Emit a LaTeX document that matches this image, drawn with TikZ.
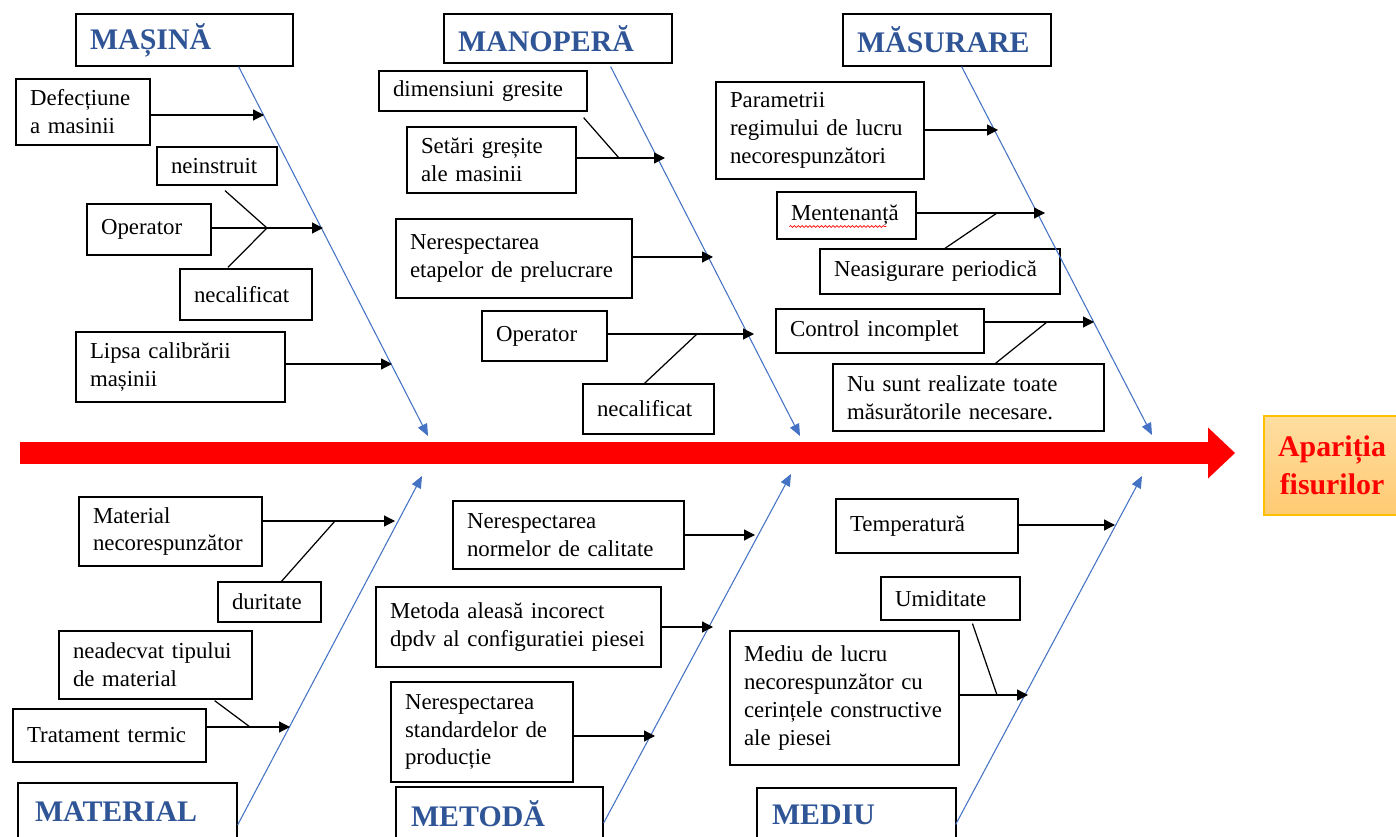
\documentclass[tikz,border=0pt]{standalone}
\usepackage{fontspec}
\setmainfont{Liberation Serif}
\usetikzlibrary{arrows.meta, decorations.pathmorphing}

\definecolor{titleblue}{RGB}{47,85,151}
\definecolor{boneblue}{RGB}{68,114,196}
\definecolor{effectline}{RGB}{255,192,0}
\definecolor{effecttop}{RGB}{255,222,160}
\definecolor{effectbot}{RGB}{255,202,115}

\newcommand{\causefont}{\fontsize{13pt}{15.9pt}\selectfont}
\newcommand{\titlefont}{\fontsize{17pt}{20pt}\selectfont\bfseries}
\newcommand{\effectfont}{\fontsize{17pt}{21.5pt}\selectfont\bfseries}

\begin{document}
\begin{tikzpicture}[x=0.02cm, y=-0.02cm,
causenode/.style={draw, line width=0.75pt, font=\causefont, align=left, inner xsep=0.28cm, inner ysep=2pt},
titlenode/.style={draw, line width=0.75pt, font=\titlefont, text=titleblue, align=left, inner xsep=0.28cm, inner ysep=2pt},
effectnode/.style={draw=effectline, line width=0.8pt, top color=effecttop, bottom color=effectbot, font=\effectfont, text=red, align=center},
boneline/.style={draw=boneblue, line width=0.6pt, -{Triangle[length=0.24cm, width=0.2cm]}},
causearrow/.style={line width=0.7pt, -{Triangle[length=0.22cm, width=0.22cm]}},
subline/.style={line width=0.7pt},
mainarrow/.style={draw=red, line width=0.44cm, -{Triangle[length=0.54cm, width=1.02cm, line width=0pt]}},
]
\useasboundingbox (0,0) rectangle (1396,837);
\clip (0,0) rectangle (1396,837);
\fill[white] (0,0) rectangle (1396,837);

%Effect
\node[effectnode, minimum width=2.72cm, minimum height=1.98cm] (effect) at (1332,465.5) {Apariția\\fisurilor};
\coordinate (tail) at (20,453);
\coordinate (head) at (1235,453);

%Titles
\node[titlenode, text width=3.78cm, minimum height=1.04cm] (masina) at (184.5,40) {MAȘINĂ};
\node[titlenode, text width=4.00cm, minimum height=0.98cm] (manopera) at (558,38.5) {MANOPERĂ};
\node[titlenode, text width=3.60cm, minimum height=1.04cm] (masurare) at (947,40) {MĂSURARE};
\node[titlenode, inner xsep=0.34cm, text width=3.70cm, minimum height=1.16cm] (material) at (127.5,812) {MATERIAL};
\node[titlenode, inner xsep=0.30cm, text width=3.54cm, minimum height=1.08cm] (metoda) at (499.5,814) {METODĂ};
\node[titlenode, inner xsep=0.30cm, text width=3.38cm, minimum height=1.06cm] (mediu) at (856.5,814.5) {MEDIU};

%Causes: masina
\node[causenode, text width=2.12cm, minimum height=1.32cm] (defect) at (83,112) {Defecțiune\\a masinii};
\node[causenode, text width=1.84cm, minimum height=0.76cm] (neinstr) at (217,166) {neinstruit};
\node[causenode, text width=1.92cm, minimum height=1.02cm] (operA) at (149,229.5) {Operator};
\node[causenode, text width=2.08cm, minimum height=1.02cm] (necalA) at (246,294.5) {necalificat};
\node[causenode, text width=3.62cm, minimum height=1.40cm] (lipsa) at (180.5,367) {Lipsa calibrării\\mașinii};

%Causes: manopera
\node[causenode, text width=3.60cm, minimum height=0.80cm] (dimens) at (483,91) {dimensiuni gresite};
\node[causenode, text width=2.82cm, minimum height=1.32cm] (setari) at (491.5,160) {Setări greșite\\ale masinii};
\node[causenode, text width=4.16cm, minimum height=1.58cm] (etape) at (514,258.5) {Nerespectarea\\etapelor de prelucrare};
\node[causenode, text width=1.94cm, minimum height=1.00cm] (operB) at (544.5,336) {Operator};
\node[causenode, text width=2.06cm, minimum height=1.00cm] (necalB) at (648.5,409) {necalificat};

%Causes: masurare
\node[causenode, text width=3.60cm, minimum height=1.94cm] (param) at (820,130.5) {Parametrii\\regimului de lucru\\necorespunzători};
\node[causenode, text width=2.22cm, minimum height=0.94cm] (menten) at (846.5,215.5) {Mentenanță};
\node[causenode, text width=4.24cm, minimum height=0.90cm] (neasig) at (940,271.5) {Neasigurare periodică};
\node[causenode, text width=3.60cm, minimum height=0.88cm] (control) at (880,331) {Control incomplet};
\node[causenode, text width=4.86cm, minimum height=1.34cm] (nusunt) at (968.5,397.5) {Nu sunt realizate toate\\măsurătorile necesare.};

%Causes: material
\node[causenode, text width=3.10cm, minimum height=1.38cm] (matnec) at (170.5,531.5) {Material\\necorespunzător};
\node[causenode, text width=1.50cm, minimum height=0.80cm] (durit) at (269.5,602) {duritate};
\node[causenode, text width=3.30cm, minimum height=1.36cm] (neadec) at (155.5,665) {neadecvat tipului\\de material};
\node[causenode, text width=3.30cm, minimum height=1.06cm] (tratam) at (109.5,735.5) {Tratament termic};

%Causes: metoda
\node[causenode, text width=4.06cm, minimum height=1.36cm] (normel) at (568.5,535) {Nerespectarea\\normelor de calitate};
\node[causenode, text width=5.14cm, minimum height=1.60cm] (metsel) at (518.5,627) {Metoda aleasă incorect\\dpdv al configuratiei piesei};
\node[causenode, text width=3.08cm, minimum height=2.00cm] (standa) at (482,732) {Nerespectarea\\standardelor de\\producție};

%Causes: mediu
\node[causenode, text width=3.08cm, minimum height=1.08cm] (temper) at (927,526) {Temperatură};
\node[causenode, text width=2.22cm, minimum height=0.86cm] (umidit) at (950.5,598.5) {Umiditate};
\node[causenode, text width=4.02cm, minimum height=2.68cm] (mediul) at (844.5,698) {Mediu de lucru\\necorespunzător cu\\cerințele constructive\\ale piesei};

%Bone tips
\coordinate (tipA) at (428,436);
\coordinate (tipB) at (800,436);
\coordinate (tipC) at (1152,435);
\coordinate (tipD) at (422,476);
\coordinate (tipE) at (791,474);
\coordinate (tipF) at (1142,476);

%Arrow ends on the bones
\coordinate (m1) at (264,115);
\coordinate (m2) at (323,228);
\coordinate (m3) at (392,364);
\coordinate (p1) at (665,158);
\coordinate (p2) at (713,257);
\coordinate (p3) at (754,334);
\coordinate (s1) at (998,130);
\coordinate (s2) at (1045,213);
\coordinate (s3) at (1094,322);
\coordinate (t1) at (395,521);
\coordinate (t2) at (290,727);
\coordinate (q1) at (755,535);
\coordinate (q2) at (713,627);
\coordinate (q3) at (655,736);
\coordinate (e1) at (1115,525);
\coordinate (e2) at (1028,695);

%Junctions
\coordinate (jA) at (267,228);
\coordinate (jB1) at (619,158);
\coordinate (jB2) at (697,334);
\coordinate (jC1) at (997,213);
\coordinate (jC2) at (1047,322);
\coordinate (jD1) at (335,521);
\coordinate (jD2) at (250,727);
\coordinate (jF) at (997,695);

%Lines
\draw[mainarrow] (tail) -- (head);

\draw[boneline] ([shift={(-55,0)}]masina.south east) -- (tipA);
\draw[boneline] ([shift={(-62,3)}]manopera.south east) -- (tipB);
\draw[boneline] ([shift={(-90,0)}]masurare.south east) -- (tipC);
\draw[boneline] ([shift={(0,13)}]material.east) -- (tipD);
\draw[boneline] ([shift={(0,9)}]metoda.east) -- (tipE);
\draw[boneline] ([shift={(-1,10)}]mediu.east) -- (tipF);

\draw[causearrow] (defect.east |- m1) -- (m1);
\draw[causearrow] (operA.east |- m2) -- (m2);
\draw[causearrow] (lipsa.east |- m3) -- (m3);
\draw[subline] ([shift={(8,5)}]neinstr.south) -- (jA);
\draw[subline] ([shift={(-18,-1)}]necalA.north) -- (jA);

\draw[causearrow] (setari.east |- p1) -- (p1);
\draw[causearrow] (etape.east |- p2) -- (p2);
\draw[causearrow] (operB.east |- p3) -- (p3);
\draw[subline] ([shift={(-4,6)}]dimens.south east) -- (jB1);
\draw[subline] ([shift={(-4,0)}]necalB.north) -- (jB2);

\draw[causearrow] (param.east |- s1) -- (s1);
\draw[causearrow] (menten.east |- s2) -- (s2);
\draw[causearrow] (control.east |- s3) -- (s3);
\draw[subline] ([shift={(5,0)}]neasig.north) -- (jC1);
\draw[subline] ([shift={(27,0)}]nusunt.north) -- (jC2);

\draw[causearrow] (matnec.east |- t1) -- (t1);
\draw[causearrow] (tratam.east |- t2) -- (t2);
\draw[subline] ([shift={(12,0)}]durit.north) -- (jD1);
\draw[subline] ([shift={(-38,1)}]neadec.south east) -- (jD2);

\draw[causearrow] (normel.east |- q1) -- (q1);
\draw[causearrow] (metsel.east |- q2) -- (q2);
\draw[causearrow] (standa.east |- q3) -- (q3);

\draw[causearrow] (temper.east |- e1) -- (e1);
\draw[causearrow] (mediul.east |- e2) -- (e2);
\draw[subline] ([shift={(22,3)}]umidit.south) -- (jF);

%Spelling mark
\draw[red, line width=0.4pt, decorate, decoration={snake, amplitude=0.5pt, segment length=2.2pt}] ([shift={(13,11)}]menten.west) -- ([shift={(110,11)}]menten.west);

\end{tikzpicture}
\end{document}
